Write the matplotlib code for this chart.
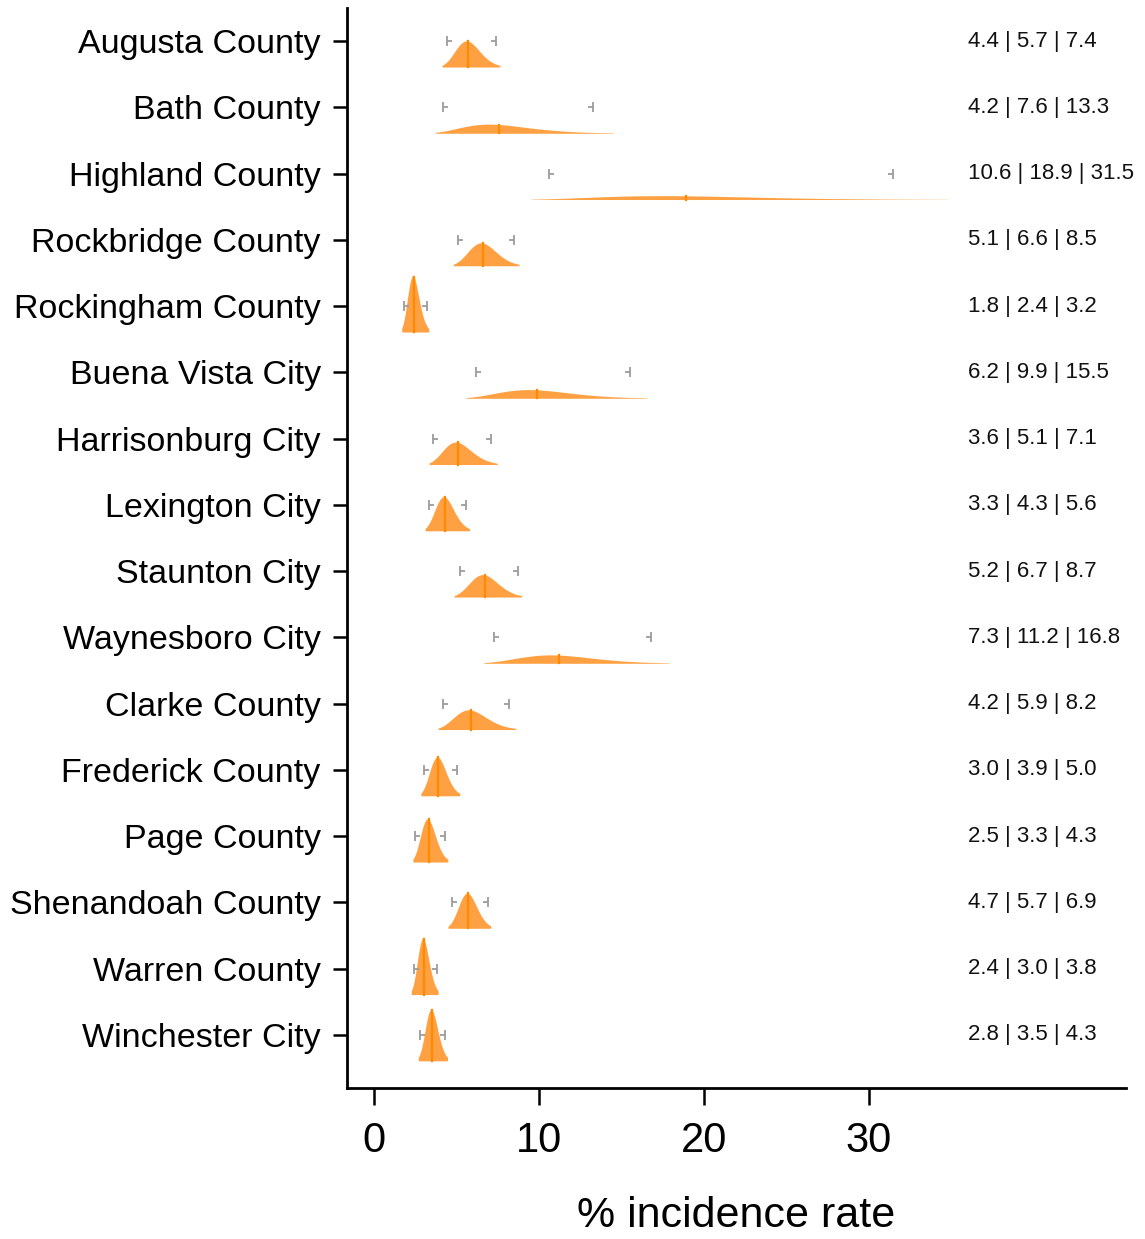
import numpy as np
import matplotlib
matplotlib.use("Agg")
import matplotlib.pyplot as plt
from matplotlib.path import Path

plt.rcParams['font.family'] = ['Liberation Sans', 'DejaVu Sans']

# data: low | median | high incidence rate (%)
areas = [
    "Augusta County", "Bath County", "Highland County", "Rockbridge County",
    "Rockingham County", "Buena Vista City", "Harrisonburg City", "Lexington City",
    "Staunton City", "Waynesboro City", "Clarke County", "Frederick County",
    "Page County", "Shenandoah County", "Warren County", "Winchester City",
]
low = [4.4, 4.2, 10.6, 5.1, 1.8, 6.2, 3.6, 3.3, 5.2, 7.3, 4.2, 3.0, 2.5, 4.7, 2.4, 2.8]
mid = [5.7, 7.6, 18.9, 6.6, 2.4, 9.9, 5.1, 4.3, 6.7, 11.2, 5.9, 3.9, 3.3, 5.7, 3.0, 3.5]
high = [7.4, 13.3, 31.5, 8.5, 3.2, 15.5, 7.1, 5.6, 8.7, 16.8, 8.2, 5.0, 4.3, 6.9, 3.8, 4.3]
xticks = [0, 10, 20, 30]

fill_col = '#ffa142'
med_col = '#ff8a00'
bar_col = '#9c9c9c'

# little "|-" and "-|" markers for the interval ends
lo_mark = Path([(0, -1), (0, 1), (0, 0), (1, 0)],
               [Path.MOVETO, Path.LINETO, Path.MOVETO, Path.LINETO])
hi_mark = Path([(0, -1), (0, 1), (0, 0), (-1, 0)],
               [Path.MOVETO, Path.LINETO, Path.MOVETO, Path.LINETO])

fig = plt.figure(figsize=(11.45, 12.39), dpi=100)
ax = fig.add_axes([0.3031, 0.1219, 0.6803, 0.8716])

base_off = 0.39   # density baseline below the row centre
scale = 0.74      # density height in row units per unit pdf

for i, (lo, md, hi) in enumerate(zip(low, mid, high)):
    # lognormal density matching the interval
    mu = np.log(md)
    sig = (np.log(hi) - np.log(lo)) / 3.92
    xs = np.exp(np.linspace(mu - 2.45 * sig, mu + 2.2 * sig, 300))
    pdf = np.exp(-(np.log(xs) - mu) ** 2 / (2 * sig ** 2)) / (xs * sig * np.sqrt(2 * np.pi))
    base = i + base_off
    ax.fill_between(xs, base, base - scale * pdf, color=fill_col, lw=0, zorder=2)
    pk = 1.0 / (md * sig * np.sqrt(2 * np.pi))
    ax.plot([md, md], [base, base - scale * pk], color=med_col, lw=1.6, zorder=3)
    ax.plot([lo], [i], marker=lo_mark, ms=6.5, mfc='none', mec=bar_col, mew=1.3, ls='none', zorder=4)
    ax.plot([hi], [i], marker=hi_mark, ms=6.5, mfc='none', mec=bar_col, mew=1.3, ls='none', zorder=4)
    ax.text(36.0, i, f"{lo:.1f} | {md:.1f} | {hi:.1f}", fontsize=16, va='center', ha='left', color='#111111')

ax.set_xlim(-1.64, 45.6)
ax.set_ylim(15.8, -0.5)
ax.set_yticks(range(len(areas)))
ax.set_yticklabels(areas, fontsize=24.5)
ax.set_xticks(xticks)
ax.set_xticklabels([str(t) for t in xticks], fontsize=30)
ax.set_xlabel('% incidence rate', fontsize=31, labelpad=25)

for s in ['top', 'right']:
    ax.spines[s].set_visible(False)
for s in ['left', 'bottom']:
    ax.spines[s].set_linewidth(2)
ax.tick_params(axis='y', length=10, width=1.8, pad=9)
ax.tick_params(axis='x', length=12, width=1.8, pad=12)

fig.savefig('out.png', dpi=100)
